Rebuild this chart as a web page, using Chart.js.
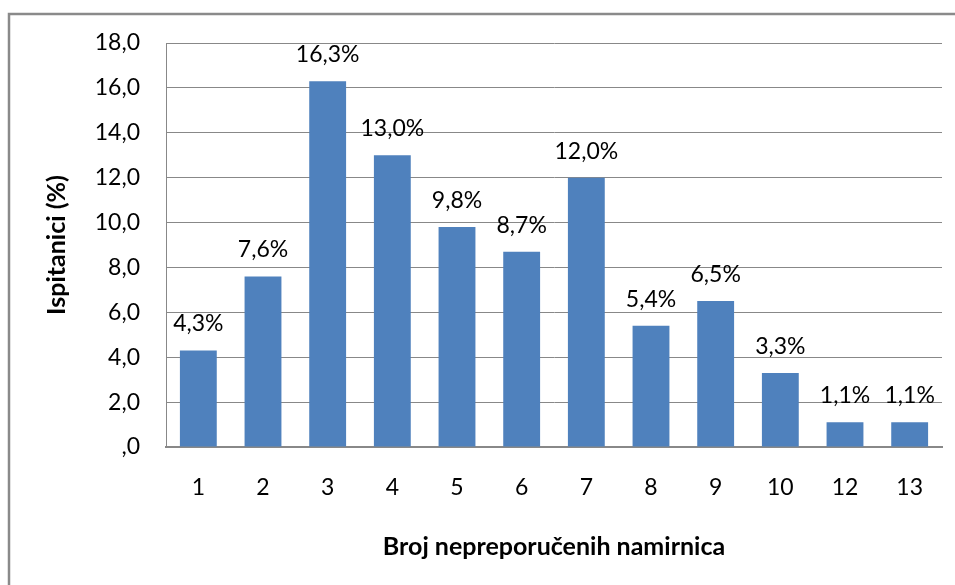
<!DOCTYPE html>
<html>
<head>
<meta charset="utf-8">
<script src="https://cdn.jsdelivr.net/npm/chart.js@4/dist/chart.umd.min.js"></script>
<style>
html,body{margin:0;padding:0;background:#fff;}
#wrap{width:955px;height:585px;position:relative;}
</style>
</head>
<body>
<div id="wrap"><canvas id="c" width="955" height="585"></canvas></div>
<script>
const categories = ["1","2","3","4","5","6","7","8","9","10","12","13"];
const values = [4.3, 7.6, 16.3, 13.0, 9.8, 8.7, 12.0, 5.4, 6.5, 3.3, 1.1, 1.1];
const valueLabels = ["4,3%","7,6%","16,3%","13,0%","9,8%","8,7%","12,0%","5,4%","6,5%","3,3%","1,1%","1,1%"];
const yTickLabels = [",0","2,0","4,0","6,0","8,0","10,0","12,0","14,0","16,0","18,0"];
const xTitle = "Broj nepreporučenih namirnica";
const yTitle = "Ispitanici (%)";

const FONT = "Lato, 'Liberation Sans', sans-serif";

const framePlugin = {
  id: 'frame',
  beforeDraw(chart) {
    const ctx = chart.ctx;
    ctx.save();
    ctx.fillStyle = '#fff';
    ctx.fillRect(0, 0, chart.width, chart.height);
    ctx.strokeStyle = '#8a8a8a';
    ctx.lineWidth = 2.5;
    ctx.beginPath();
    ctx.moveTo(9, chart.height);
    ctx.lineTo(9, 14);
    ctx.lineTo(chart.width, 14);
    ctx.stroke();
    ctx.restore();
  }
};

const labelPlugin = {
  id: 'barLabels',
  afterDatasetsDraw(chart) {
    const ctx = chart.ctx;
    const meta = chart.getDatasetMeta(0);
    ctx.save();
    ctx.font = "23px " + FONT;
    ctx.fillStyle = '#000';
    ctx.textAlign = 'center';
    ctx.textBaseline = 'alphabetic';
    meta.data.forEach((bar, i) => {
      ctx.fillText(valueLabels[i], bar.x, bar.y - 19);
    });
    ctx.restore();
  }
};

new Chart(document.getElementById('c'), {
  type: 'bar',
  data: {
    labels: categories,
    datasets: [{
      data: values,
      backgroundColor: '#4F81BD',
      borderWidth: 0,
      barPercentage: 0.57,
      categoryPercentage: 1.0
    }]
  },
  options: {
    responsive: false,
    animation: false,
    layout: { padding: { top: 43, right: 13, left: 0, bottom: 0 } },
    plugins: { legend: { display: false }, tooltip: { enabled: false } },
    scales: {
      x: {
        grid: { display: false, drawTicks: false },
        border: { display: true, color: '#888', width: 2 },
        ticks: { color: '#000', font: { family: FONT, size: 23 }, padding: 27 },
        title: { display: true, text: xTitle, color: '#000', font: { family: FONT, size: 25, weight: 'bold' }, padding: { bottom: 23, top: 0 } },
        afterFit(scale) { scale.height = 138; }
      },
      y: {
        min: 0, max: 18,
        ticks: {
          stepSize: 2, color: '#000', font: { family: FONT, size: 23 }, padding: 26,
          callback: (v, i) => yTickLabels[i]
        },
        grid: { color: '#888', lineWidth: 1, drawTicks: false },
        border: { display: true, color: '#888', width: 1 },
        title: { display: true, text: yTitle, color: '#000', font: { family: FONT, size: 25, weight: 'bold' }, padding: { top: 42, bottom: 0 } },
        afterFit(scale) { scale.width = 166; }
      }
    }
  },
  plugins: [framePlugin, labelPlugin]
});
</script>
</body>
</html>
